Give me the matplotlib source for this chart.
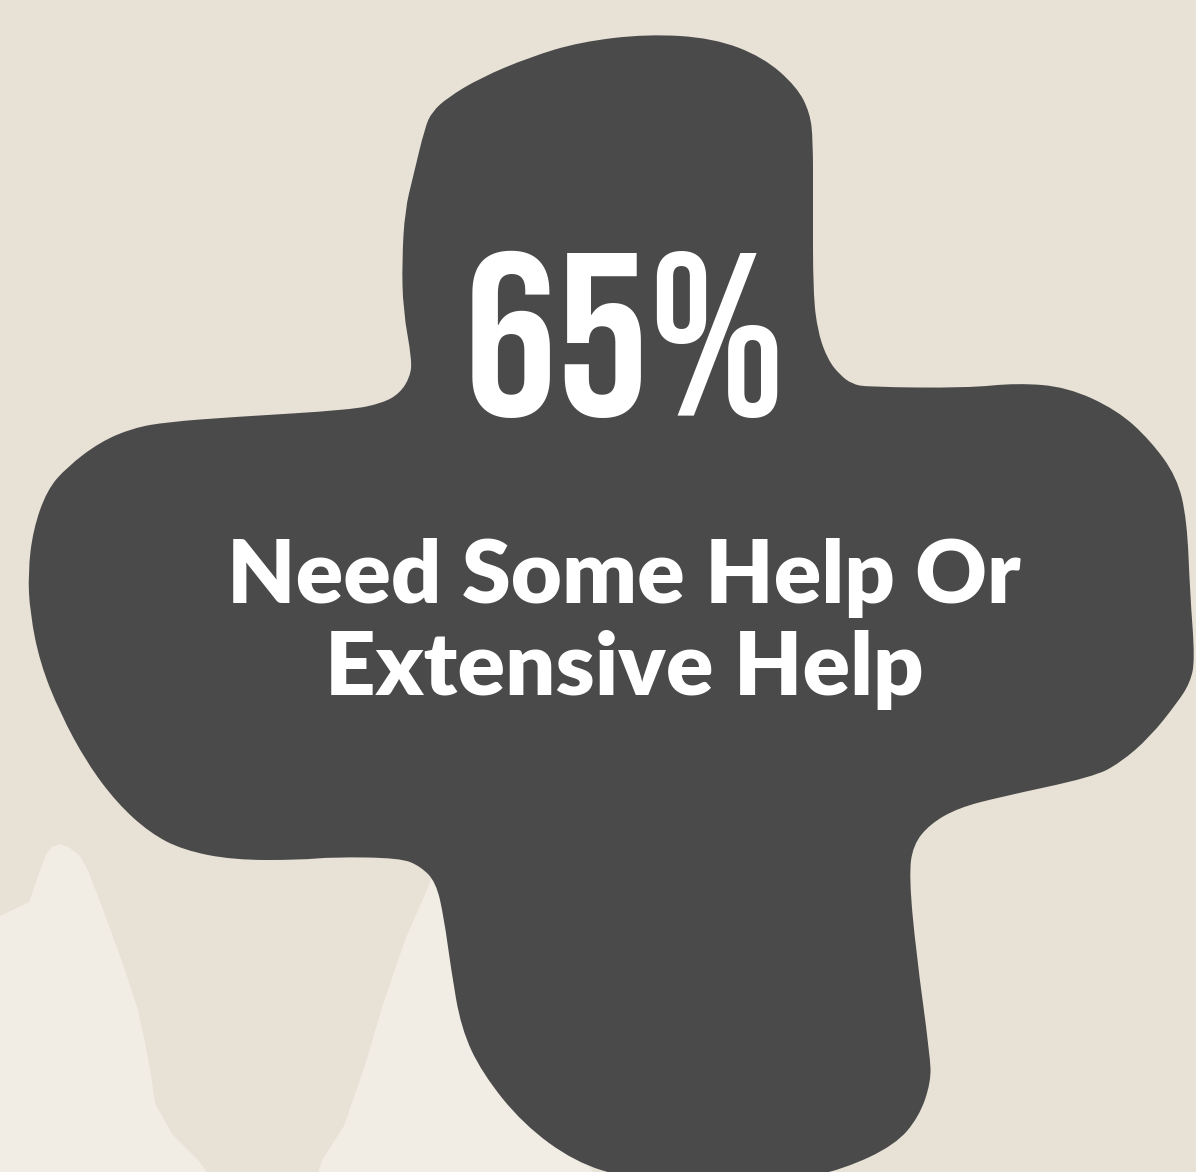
import matplotlib
matplotlib.use("Agg")
import matplotlib.pyplot as plt
from matplotlib.path import Path
from matplotlib.patches import PathPatch, Polygon

# --- content ---
stat_value = 65
stat_label = ["Need Some Help Or", "Extensive Help"]

BG = "#E7E1D6"
LIGHT = "#F1EDE5"
DARK = "#4A4A4A"

W, H = 1196, 1172

# decorative outlines (pixel coords, y down)
blob = [
    (403, 310), (402, 260), (405, 210), (413, 177), (425, 127), (432, 112),
    (447, 98), (480, 78), (530, 57), (580, 42), (647, 34), (713, 38),
    (763, 57), (797, 87), (810, 113), (813, 140), (813, 200), (813, 293),
    (818, 333), (828, 360), (840, 375), (852, 384), (867, 387), (967, 388),
    (1017, 383), (1067, 387), (1117, 410), (1150, 440), (1177, 477),
    (1187, 520), (1190, 593), (1195, 660), (1190, 683), (1177, 703),
    (1150, 737), (1120, 763), (1093, 777), (1000, 797), (958, 808),
    (930, 824), (913, 845), (909, 876), (916, 952), (930, 1055), (931, 1082),
    (919, 1117), (895, 1145), (844, 1169), (787, 1182), (700, 1190),
    (627, 1178), (575, 1162), (523, 1124), (482, 1073), (461, 1028),
    (451, 969), (444, 918), (436, 882), (420, 866), (400, 858), (333, 857),
    (300, 860), (233, 860), (183, 850), (150, 833), (117, 803), (87, 763),
    (60, 713), (40, 663), (30, 613), (28, 573), (33, 530), (47, 490),
    (67, 467), (100, 442), (133, 428), (167, 422), (233, 417), (350, 410),
    (383, 403), (400, 393), (410, 377), (412, 360),
]
light_left = [
    (-5, 918), (0, 916), (29, 902), (46, 854), (52, 847), (60, 844),
    (70, 848), (80, 856), (88, 870), (107, 920), (126, 973), (138, 1010),
    (145, 1042), (151, 1075), (155, 1103), (172, 1134), (199, 1161),
    (212, 1180), (-5, 1180),
]
light_mid = [
    (316, 1180), (322, 1160), (344, 1126), (365, 1065), (383, 1004),
    (405, 940), (429, 885), (440, 850), (560, 850), (575, 1150),
    (600, 1180),
]


def smooth_path(pts):
    # quadratic b-spline through midpoints
    n = len(pts)
    mids = [((pts[i][0] + pts[(i + 1) % n][0]) / 2,
             (pts[i][1] + pts[(i + 1) % n][1]) / 2) for i in range(n)]
    verts = [mids[0]]
    codes = [Path.MOVETO]
    for i in range(1, n + 1):
        verts += [pts[i % n], mids[i % n]]
        codes += [Path.CURVE3, Path.CURVE3]
    verts.append(mids[0])
    codes.append(Path.CLOSEPOLY)
    return Path(verts, codes)


fig = plt.figure(figsize=(W / 100, H / 100), dpi=100)
fig.patch.set_facecolor(BG)
ax = fig.add_axes([0, 0, 1, 1])
ax.set_xlim(0, W)
ax.set_ylim(H, 0)
ax.axis("off")

ax.add_patch(Polygon(light_left, closed=True, fc=LIGHT, ec="none"))
ax.add_patch(Polygon(light_mid, closed=True, fc=LIGHT, ec="none"))
ax.add_patch(PathPatch(smooth_path(blob), fc=DARK, ec="none"))

ax.text(625, 416, f"{stat_value}%", family="Bebas Neue",
        fontsize=167, color="white", ha="center", va="baseline")

for i, line in enumerate(stat_label):
    ax.text(624, 603 + i * 92, line, family="Lato", weight="heavy",
            fontsize=63.5, color="white", ha="center", va="baseline")

fig.savefig("out.png", dpi=100, facecolor=BG)
